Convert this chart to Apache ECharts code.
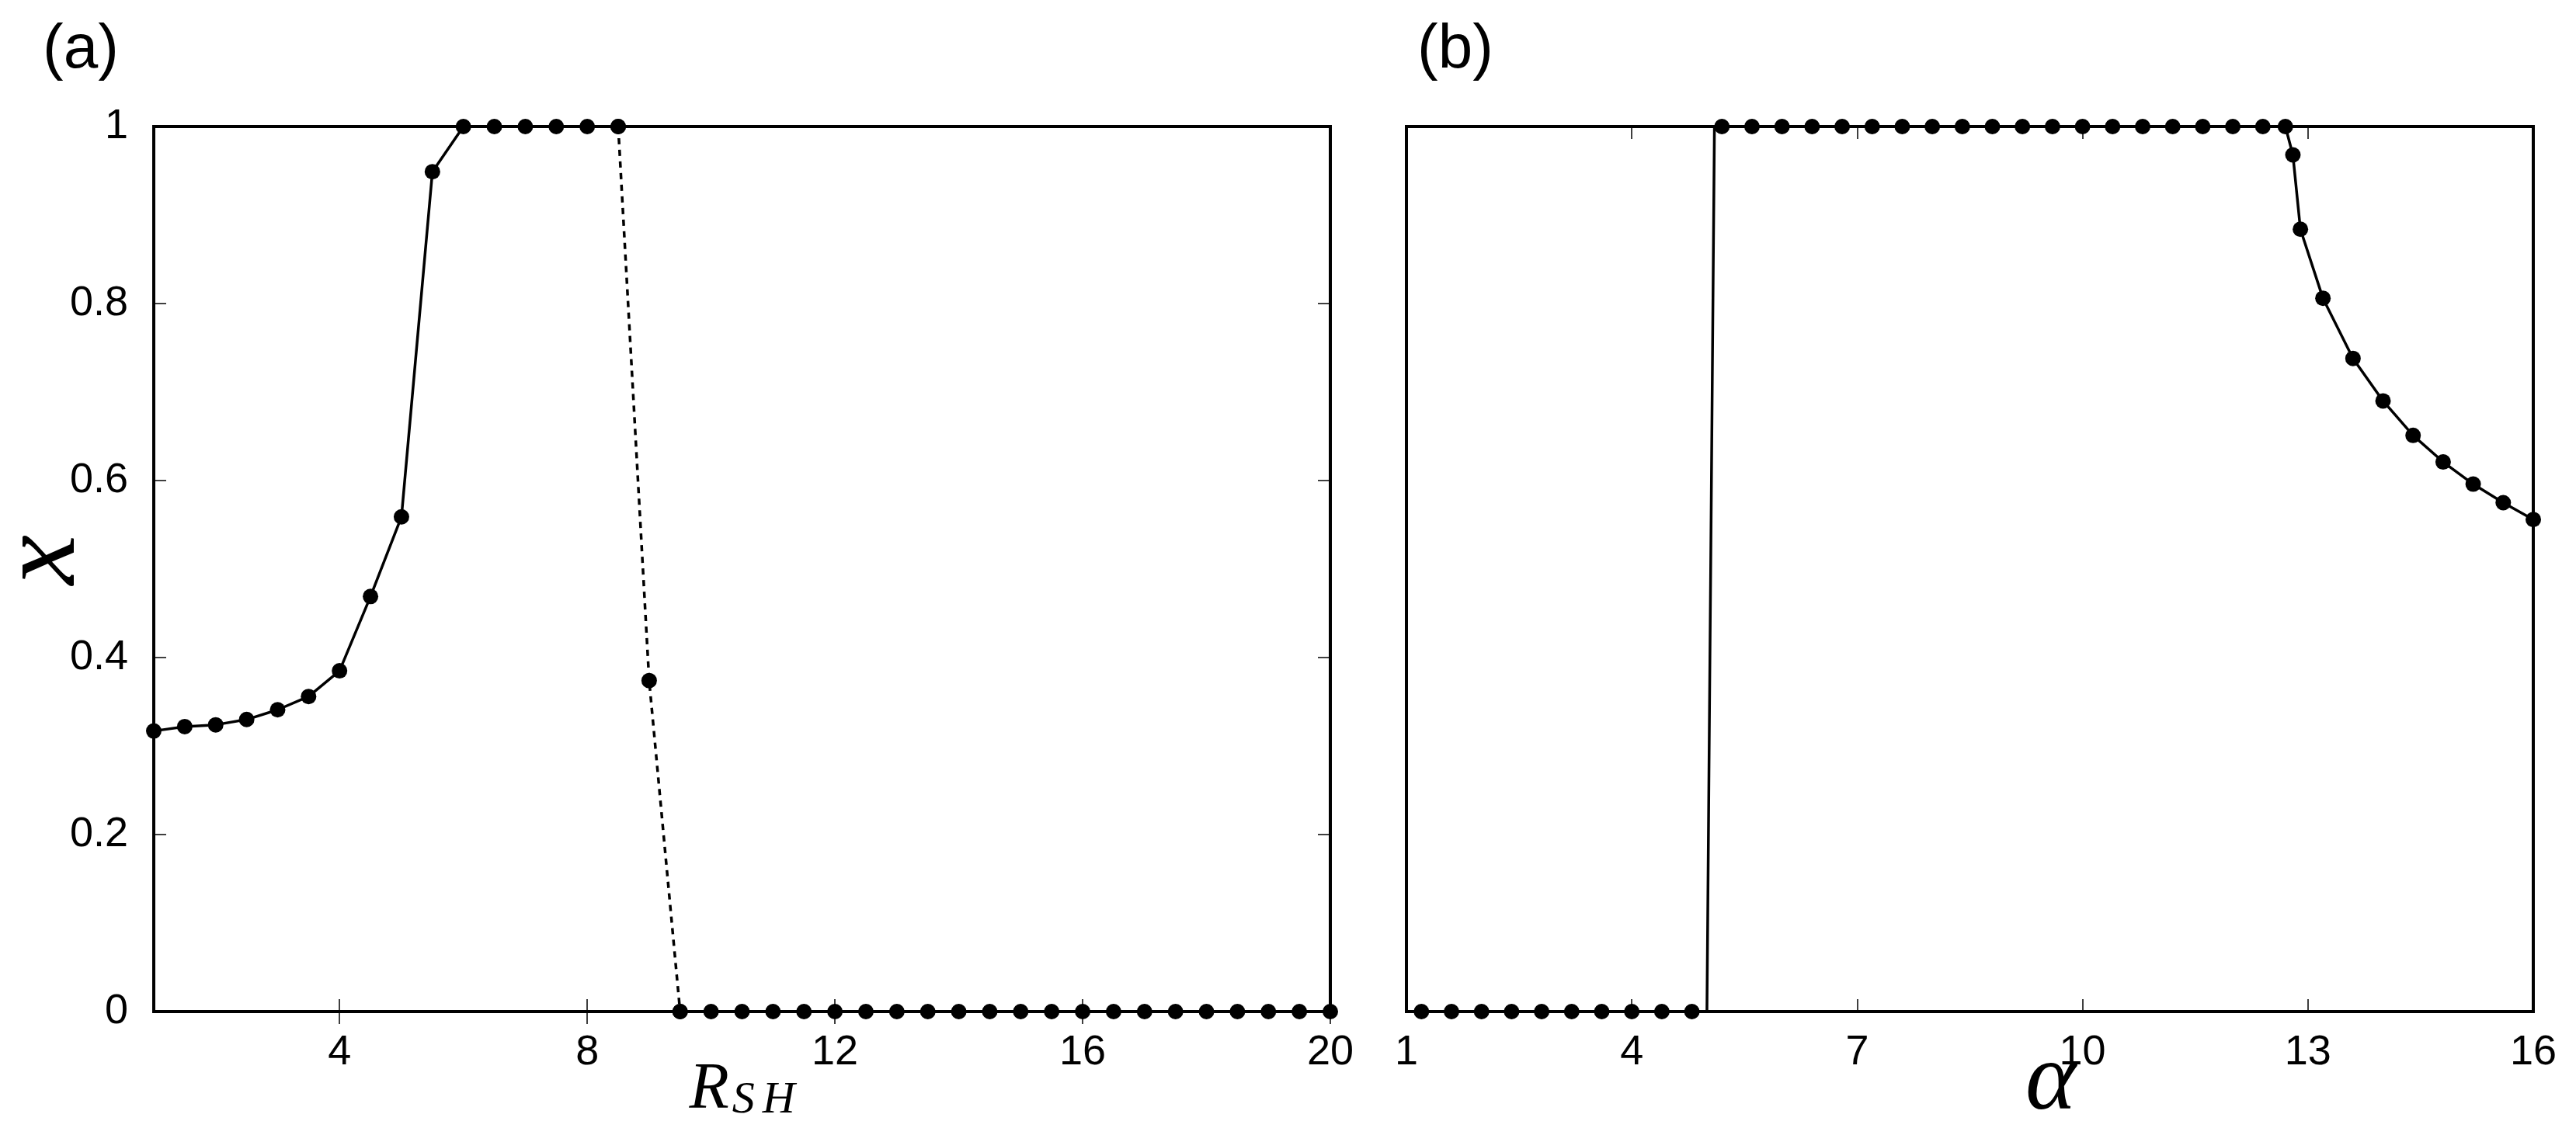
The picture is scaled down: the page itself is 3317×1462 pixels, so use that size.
<!DOCTYPE html>
<html>
<head>
<meta charset="utf-8">
<script src="https://cdn.jsdelivr.net/npm/echarts@6.0.0/dist/echarts.min.js"></script>
<style>
  html, body { margin: 0; padding: 0; background: #fff; }
  #chart { width: 3317px; height: 1462px; }
</style>
</head>
<body>
<div id="chart"></div>
<script>
// panel (a): x versus R_SH
var rshSolid = [1, 1.5, 2, 2.5, 3, 3.5, 4, 4.5, 5, 5.5, 6, 6.5, 7, 7.5, 8, 8.5];
var xSolid   = [0.317, 0.322, 0.324, 0.330, 0.341, 0.356, 0.385, 0.469, 0.559, 0.949, 1, 1, 1, 1, 1, 1];
var rshDotted = [8.5, 9, 9.5];
var xDotted   = [1, 0.374, 0];
var rshZero = [9.5, 10, 10.5, 11, 11.5, 12, 12.5, 13, 13.5, 14, 14.5, 15, 15.5, 16, 16.5, 17, 17.5, 18, 18.5, 19, 19.5, 20];
var xZero   = [0, 0, 0, 0, 0, 0, 0, 0, 0, 0, 0, 0, 0, 0, 0, 0, 0, 0, 0, 0, 0, 0];

// panel (b): x versus alpha
var alphaLow = [1.2, 1.6, 2.0, 2.4, 2.8, 3.2, 3.6, 4.0, 4.4, 4.8];
var xLow     = [0, 0, 0, 0, 0, 0, 0, 0, 0, 0];
var alphaJump = [5.0, 5.1];   // line passes here, no marker drawn
var xJump     = [0, 1];
var alphaHigh = [5.2, 5.6, 6.0, 6.4, 6.8, 7.2, 7.6, 8.0, 8.4, 8.8, 9.2, 9.6, 10.0, 10.4, 10.8, 11.2, 11.6, 12.0, 12.4, 12.7];
var xHigh     = [1, 1, 1, 1, 1, 1, 1, 1, 1, 1, 1, 1, 1, 1, 1, 1, 1, 1, 1, 1];
var alphaTail = [12.8, 12.9, 13.2, 13.6, 14.0, 14.4, 14.8, 15.2, 15.6, 16.0];
var xTail     = [0.968, 0.884, 0.806, 0.738, 0.690, 0.651, 0.621, 0.596, 0.575, 0.556];

// tick labels
var ticksRsh = [4, 8, 12, 16, 20];
var ticksAlpha = [1, 4, 7, 10, 13, 16];

function pair(xs, ys) {
  return xs.map(function (v, i) { return [v, ys[i]]; });
}

var chart = echarts.init(document.getElementById('chart'));

var sans = 'Liberation Sans';
var serif = 'Liberation Serif';

var tickIn = { show: true, inside: true, length: 16, lineStyle: { color: '#000', width: 1.5 } };
var labelStyle = { color: '#000', fontFamily: sans, fontSize: 54 };

function lineSeries(data, xi, yi, dashed) {
  return {
    type: 'line',
    xAxisIndex: xi,
    yAxisIndex: yi,
    data: data,
    symbol: 'circle',
    symbolSize: 20,
    clip: false,
    itemStyle: { color: '#000' },
    lineStyle: { color: '#000', width: 3.5, type: dashed ? [8, 7] : 'solid' },
    emphasis: { disabled: true }
  };
}

var dataB = pair(alphaLow, xLow)
  .concat(pair(alphaJump, xJump).map(function (p) { return { value: p, symbol: 'none' }; }))
  .concat(pair(alphaHigh, xHigh))
  .concat(pair(alphaTail, xTail));

var panelTitle = { fontFamily: sans, fontSize: 80, fontWeight: 'normal', color: '#000' };
var italic = { fontFamily: serif, fontStyle: 'italic', color: '#000' };

var option = {
  animation: false,
  backgroundColor: '#fff',
  title: [
    { text: '(a)', left: 50, top: 20, textStyle: panelTitle },
    { text: '(b)', left: 1820, top: 20, textStyle: panelTitle }
  ],
  grid: [
    { left: 198, top: 163, width: 1515, height: 1140, show: true, borderColor: '#000', borderWidth: 4, outerBoundsMode: 'none' },
    { left: 1811, top: 163, width: 1451, height: 1140, show: true, borderColor: '#000', borderWidth: 4, outerBoundsMode: 'none' }
  ],
  xAxis: [
    {
      gridIndex: 0, type: 'value', min: 1, max: 20, position: 'bottom',
      axisLine: { show: false }, splitLine: { show: false },
      axisTick: Object.assign({ customValues: ticksRsh }, tickIn),
      axisLabel: Object.assign({ customValues: ticksRsh, margin: 26 }, labelStyle),
      name: '{r|R}{s|S}{h|H}', nameLocation: 'middle', nameGap: 60, nameMoveOverlap: false,
      nameTextStyle: {
        rich: {
          r: Object.assign({ fontSize: 84, lineHeight: 84, verticalAlign: 'bottom', padding: [0, 4, 0, 0] }, italic),
          s: Object.assign({ fontSize: 58, lineHeight: 40, verticalAlign: 'bottom' }, italic),
          h: Object.assign({ fontSize: 58, lineHeight: 40, verticalAlign: 'bottom', padding: [0, 0, 0, 10] }, italic)
        }
      }
    },
    {
      gridIndex: 0, type: 'value', min: 1, max: 20, position: 'top',
      axisLine: { show: false }, splitLine: { show: false },
      axisTick: Object.assign({ customValues: ticksRsh }, tickIn),
      axisLabel: { show: false }
    },
    {
      gridIndex: 1, type: 'value', min: 1, max: 16, interval: 3, position: 'bottom',
      axisLine: { show: false }, splitLine: { show: false },
      axisTick: tickIn,
      axisLabel: Object.assign({ margin: 26, customValues: ticksAlpha }, labelStyle),
      name: '\u03b1', nameLocation: 'middle', nameGap: 30, nameMoveOverlap: false,
      nameTextStyle: Object.assign({ fontSize: 124, padding: [0, 0, 0, 208] }, italic)
    },
    {
      gridIndex: 1, type: 'value', min: 1, max: 16, interval: 3, position: 'top',
      axisLine: { show: false }, splitLine: { show: false },
      axisTick: tickIn,
      axisLabel: { show: false }
    }
  ],
  yAxis: [
    {
      gridIndex: 0, type: 'value', min: 0, max: 1, interval: 0.2, position: 'left',
      axisLine: { show: false }, splitLine: { show: false },
      axisTick: tickIn,
      axisLabel: Object.assign({ margin: 33 }, labelStyle),
      name: 'x', nameLocation: 'middle', nameGap: 69, nameMoveOverlap: false,
      nameTextStyle: Object.assign({ fontSize: 145, padding: [0, 0, 0, 24] }, italic)
    },
    {
      gridIndex: 0, type: 'value', min: 0, max: 1, interval: 0.2, position: 'right',
      axisLine: { show: false }, splitLine: { show: false },
      axisTick: tickIn,
      axisLabel: { show: false }
    },
    {
      gridIndex: 1, type: 'value', min: 0, max: 1, interval: 0.2,
      axisLine: { show: false }, splitLine: { show: false },
      axisTick: { show: false }, axisLabel: { show: false }
    }
  ],
  series: [
    lineSeries(pair(rshSolid, xSolid), 0, 0, false),
    lineSeries(pair(rshDotted, xDotted), 0, 0, true),
    lineSeries(pair(rshZero, xZero), 0, 0, false),
    lineSeries(dataB, 2, 2, false)
  ]
};

chart.setOption(option);
</script>
</body>
</html>
